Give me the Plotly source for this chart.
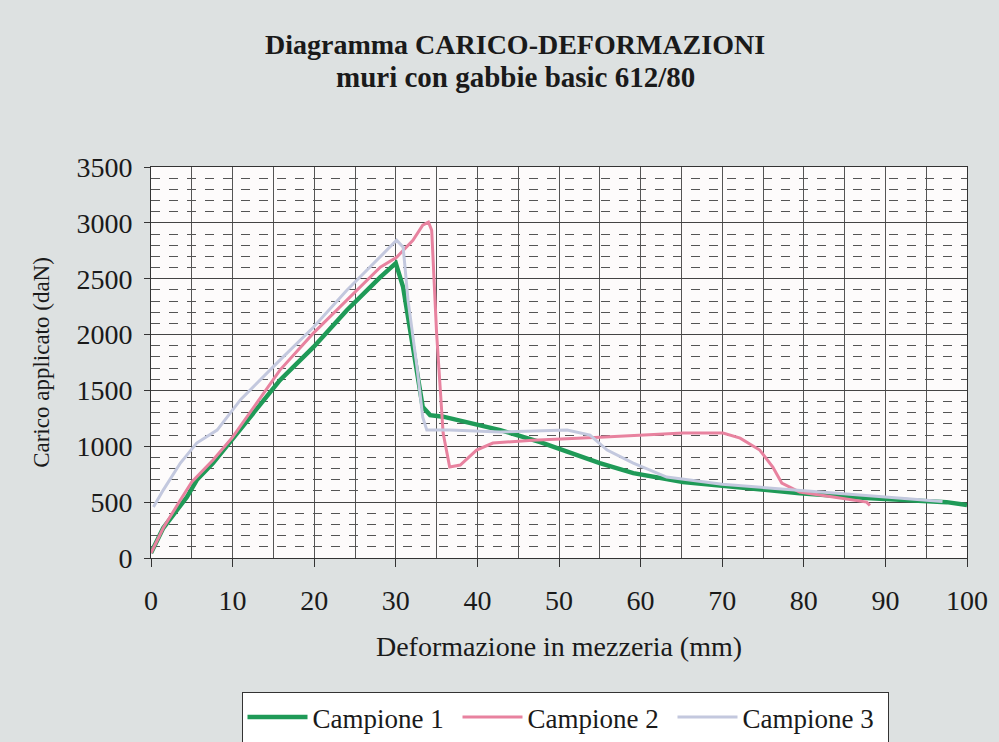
import plotly.graph_objects as go

# Campione 1
c1_x = [0, 1.5, 4.4, 5.6, 7.6, 10.9, 15.8, 19.9, 24.0, 28.1, 30.0, 30.9, 33.3, 34.2, 35.8,
        42.8, 47.7, 55.0, 59.1, 65.2, 71.3, 75.5, 79.5, 87.7, 95.8, 97.5, 100]
c1_y = [45, 268, 546, 698, 850, 1145, 1592, 1887, 2218, 2514, 2639, 2424, 1351, 1279, 1265,
        1145, 1038, 850, 760, 680, 635, 608, 580, 537, 501, 500, 474]

# Campione 2
c2_x = [0, 1.5, 3.6, 5.0, 7.6, 10.0, 15.8, 19.9, 24.0, 28.1, 30.1, 32.1, 33.3, 34.0, 34.4,
        35.0, 35.8, 36.6, 37.9, 39.9, 41.9, 46.8, 55.0, 65.2, 70.1, 72.2, 74.6, 76.2, 77.3,
        79.5, 83.6, 87.7, 88.1]
c2_y = [45, 268, 519, 680, 877, 1082, 1682, 2013, 2308, 2603, 2692, 2844, 2979, 3006, 2934,
        2013, 1118, 814, 832, 966, 1029, 1055, 1082, 1118, 1118, 1073, 966, 814, 671,
        590, 546, 500, 470]

# Campione 3
c3_x = [0.3, 1.5, 3.6, 5.6, 8.1, 11.0, 15.8, 19.9, 24.0, 28.1, 30.1, 30.9, 31.5, 32.6, 33.3,
        33.8, 36.6, 42.8, 48.9, 51.0, 53.8, 55.9, 59.1, 63.2, 70.0, 80.0, 90.0, 97.0]
c3_y = [456, 608, 850, 1029, 1145, 1420, 1771, 2066, 2397, 2692, 2844, 2782, 2308, 1708, 1261,
        1145, 1145, 1127, 1145, 1145, 1100, 966, 850, 725, 660, 600, 545, 505]

names = ["Campione 1", "Campione 2", "Campione 3"]

x_title = "Deformazione in mezzeria (mm)"
y_title = "Carico applicato (daN)"
title_lines = ["Diagramma CARICO-DEFORMAZIONI", "muri con gabbie basic 612/80"]

FONT = "Liberation Serif"
INK = "#1a1a1a"
fig = go.Figure()
fig.add_trace(go.Scatter(x=c1_x, y=c1_y, mode="lines", name=names[0],
                         line=dict(color="#1f9a57", width=4.5)))
fig.add_trace(go.Scatter(x=c2_x, y=c2_y, mode="lines", name=names[1],
                         line=dict(color="#e8829f", width=3)))
fig.add_trace(go.Scatter(x=c3_x, y=c3_y, mode="lines", name=names[2],
                         line=dict(color="#c3c8de", width=3)))

for txt, ypx, sz in zip(title_lines, [44, 77], [28, 29]):
    fig.add_annotation(text="<b>" + txt + "</b>", xref="paper", yref="paper",
                       x=(515 - 151) / 816, y=(558 - ypx) / 391, xanchor="center",
                       yanchor="middle", showarrow=False,
                       font=dict(family=FONT, size=sz, color=INK))

fig.update_layout(
    width=999, height=742,
    margin=dict(l=151, r=32, t=167, b=184),
    paper_bgcolor="#dde1e1",
    plot_bgcolor="#fdfbfb",
    font=dict(family=FONT, color=INK, size=24),
    showlegend=True,
    legend=dict(orientation="h", xref="container", yref="container",
                x=565 / 999, xanchor="center", y=1 - 692 / 742, yanchor="top",
                bgcolor="#ffffff", bordercolor="#333333", borderwidth=1,
                font=dict(family=FONT, size=27, color=INK),
                itemwidth=60, entrywidth=140, entrywidthmode="pixels", tracegroupgap=0),
    xaxis=dict(range=[0, 100], dtick=10, tick0=0, showgrid=True, gridcolor="#555555",
               gridwidth=1, zeroline=False, showline=True, linecolor="#333333", mirror=True,
               ticks="outside", ticklen=8, tickcolor="#333333", ticklabelstandoff=9,
               tickfont=dict(family=FONT, size=28),
               minor=dict(dtick=5, showgrid=True, gridcolor="#555555", gridwidth=1),
               title=dict(text=x_title, font=dict(family=FONT, size=28), standoff=21)),
    yaxis=dict(range=[0, 3500], dtick=500, tick0=0, showgrid=True, gridcolor="#444444",
               gridwidth=1, zeroline=False, showline=True, linecolor="#333333", mirror=True,
               ticks="outside", ticklen=6, tickcolor="#333333", ticklabelstandoff=6,
               tickfont=dict(family=FONT, size=28),
               minor=dict(dtick=100, showgrid=True, gridcolor="#555555", gridwidth=1,
                          griddash="dash"),
               title=dict(text=y_title, font=dict(family=FONT, size=23), standoff=20)),
)

fig.write_html("out.html", config={"displayModeBar": False},
               post_script="document.body.style.margin='0px';")
